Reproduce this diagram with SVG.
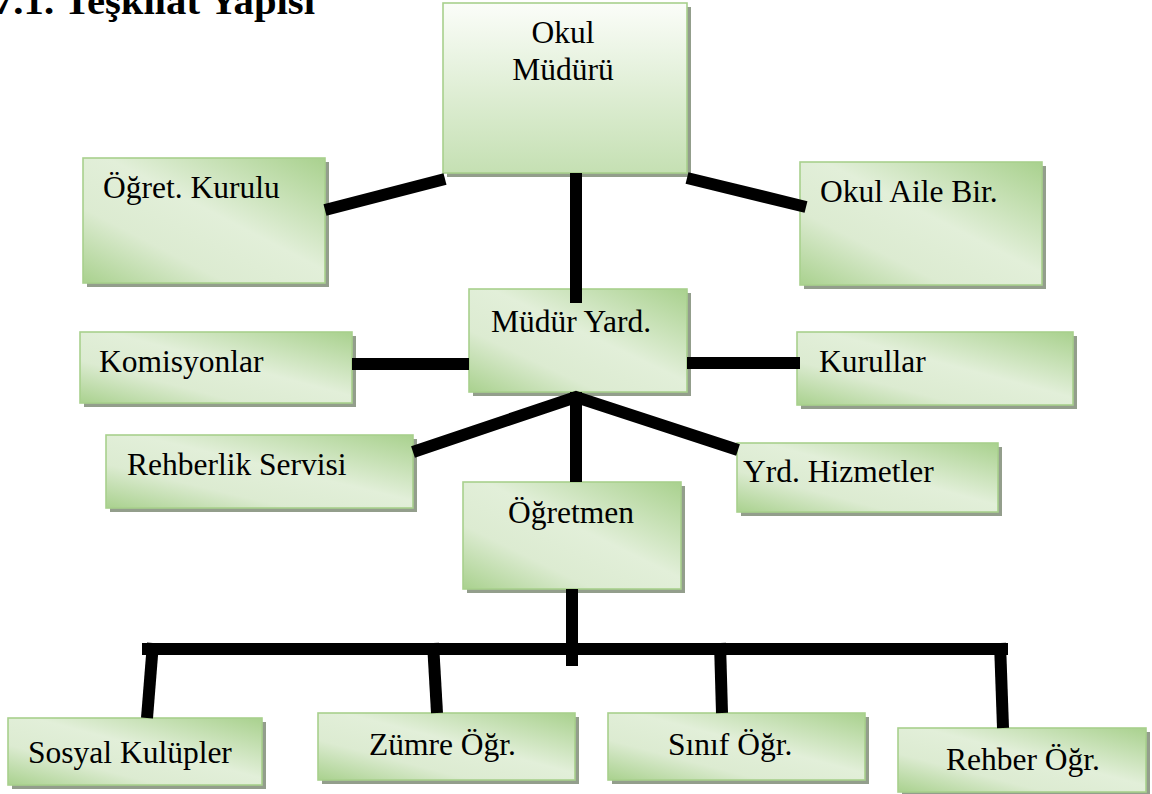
<svg xmlns="http://www.w3.org/2000/svg" width="1152" height="794" viewBox="0 0 1152 794">
<style>
.box{stroke:#a8d08d;stroke-width:1.6;fill:url(#gd)}
.top{stroke:#a8d08d;stroke-width:1.6;fill:url(#gv)}
.sh{fill:#939e8c}
.t{font-family:"Liberation Serif","Times New Roman",serif;font-size:31.5px;fill:#000}
.c{stroke:#000;stroke-width:12;fill:none}
</style>
<defs>
<linearGradient id="gd" x1="1" y1="0" x2="0" y2="1">
<stop offset="0" stop-color="#a9d18e"/>
<stop offset="0.45" stop-color="#e2efd9"/>
<stop offset="0.7" stop-color="#dcebd1"/>
<stop offset="1" stop-color="#a9d18e"/>
</linearGradient>
<linearGradient id="gv" x1="0" y1="0" x2="0" y2="1">
<stop offset="0" stop-color="#fbfdf9"/>
<stop offset="1" stop-color="#c5e0b3"/>
</linearGradient>
</defs>
<text x="-7" y="14" font-family="Liberation Serif,serif" font-weight="bold" font-size="37" textLength="322" lengthAdjust="spacingAndGlyphs">7.1. Teşkilat Yapısı</text>
<g id="n1"><rect class="sh" x="447" y="7" width="244" height="170"/><rect class="top" x="443" y="3" width="244" height="170"/><text class="t" x="563" y="43" text-anchor="middle">Okul</text><text class="t" x="563" y="80" text-anchor="middle">Müdürü</text></g>
<g id="n2"><rect class="sh" x="87" y="162" width="242" height="125"/><rect class="box" x="83" y="158" width="242" height="125"/><text class="t" x="103" y="198">Öğret. Kurulu</text></g>
<g id="n3"><rect class="sh" x="804" y="166" width="242" height="123"/><rect class="box" x="800" y="162" width="242" height="123"/><text class="t" x="820" y="202">Okul Aile Bir.</text></g>
<g id="n4"><rect class="sh" x="473" y="293" width="218" height="103"/><rect class="box" x="469" y="289" width="218" height="103"/><text class="t" x="491" y="332">Müdür Yard.</text></g>
<g id="n5"><rect class="sh" x="84" y="336" width="272" height="71"/><rect class="box" x="80" y="332" width="272" height="71"/><text class="t" x="99" y="372">Komisyonlar</text></g>
<g id="n6"><rect class="sh" x="801" y="336" width="276" height="73"/><rect class="box" x="797" y="332" width="276" height="73"/><text class="t" x="819" y="372">Kurullar</text></g>
<g id="n7"><rect class="sh" x="110" y="439" width="307" height="73"/><rect class="box" x="106" y="435" width="307" height="73"/><text class="t" x="127" y="475">Rehberlik Servisi</text></g>
<g id="n8"><rect class="sh" x="741" y="447" width="261" height="69"/><rect class="box" x="737" y="443" width="261" height="69"/><text class="t" x="743" y="482">Yrd. Hizmetler</text></g>
<g id="n9"><rect class="sh" x="467" y="486" width="218" height="107"/><rect class="box" x="463" y="482" width="218" height="107"/><text class="t" x="508" y="523">Öğretmen</text></g>
<g id="n10"><rect class="sh" x="12" y="722" width="254" height="67"/><rect class="box" x="8" y="718" width="254" height="67"/><text class="t" x="28" y="763">Sosyal Kulüpler</text></g>
<g id="n11"><rect class="sh" x="322" y="717" width="257" height="67"/><rect class="box" x="318" y="713" width="257" height="67"/><text class="t" x="369" y="755">Zümre Öğr.</text></g>
<g id="n12"><rect class="sh" x="612" y="717" width="257" height="67"/><rect class="box" x="608" y="713" width="257" height="67"/><text class="t" x="668" y="755">Sınıf Öğr.</text></g>
<g id="n13"><rect class="sh" x="902" y="732" width="248" height="64"/><rect class="box" x="898" y="728" width="248" height="64"/><text class="t" x="946" y="770">Rehber Öğr.</text></g>
<g id="connectors">
<line class="c" x1="445" y1="179" x2="325" y2="210"/>
<line class="c" x1="687" y1="178" x2="806" y2="207"/>
<line class="c" x1="576" y1="173" x2="576" y2="303"/>
<line class="c" x1="352" y1="364" x2="469" y2="364"/>
<line class="c" x1="687" y1="363" x2="800" y2="363"/>
<polyline class="c" points="413,452 576,397 738,450"/>
<line class="c" x1="576" y1="392" x2="576" y2="482"/>
<line class="c" x1="572" y1="589" x2="572" y2="666"/>
<line class="c" x1="142" y1="649" x2="1008" y2="649"/>
<line class="c" x1="153" y1="643" x2="147" y2="718"/>
<line class="c" x1="433" y1="643" x2="437" y2="713"/>
<line class="c" x1="720" y1="643" x2="722" y2="713"/>
<line class="c" x1="1000" y1="643" x2="1003" y2="728"/>
</g>
</svg>
